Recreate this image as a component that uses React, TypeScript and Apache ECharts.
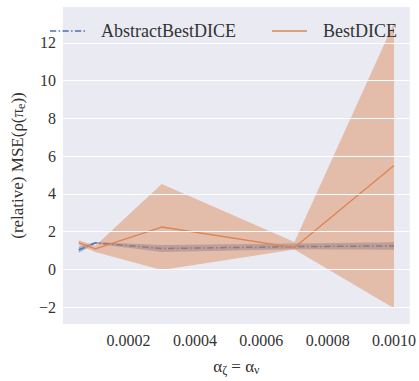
import React, { useEffect, useRef } from "react";
import * as echarts from "echarts";

const xValues = [0.00005, 0.0001, 0.0003, 0.0007, 0.001];
const abstractMean = [1.03, 1.4, 1.1, 1.2, 1.24];
const abstractLower = [0.88, 1.35, 0.92, 1.06, 1.04];
const abstractUpper = [1.2, 1.45, 1.29, 1.37, 1.43];
const bestMean = [1.41, 1.08, 2.24, 1.15, 5.5];
const bestLower = [1.28, 0.92, -0.04, 1.05, -2.07];
const bestUpper = [1.54, 1.25, 4.52, 1.45, 13.07];

const xTicks = [0.0002, 0.0004, 0.0006, 0.0008, 0.001];
const yTicks = [-2, 0, 2, 4, 6, 8, 10, 12];

const BLUE = "#4C72B0";
const ORANGE = "#DD8452";
const FONT = "'Liberation Serif', 'Times New Roman', serif";

const DASHDOT_ICON =
  "path://M0,0h6.5v1.5h-6.5z M9,0h1.5v1.5h-1.5z M13,0h6.5v1.5h-6.5z M22,0h1.5v1.5h-1.5z M26,0h6.5v1.5h-6.5z M35,0h1.5v1.5h-1.5z";
const SOLID_ICON = "path://M0,0h36v1.3h-36z";

function bandSeries(name: string, lower: number[], upper: number[], color: string, z: number) {
  return {
    name,
    type: "custom",
    z,
    silent: true,
    clip: true,
    data: xValues.map((x, i) => [x, lower[i], upper[i]]),
    encode: { x: 0, y: [1, 2] },
    renderItem: (params: any, api: any) => {
      if (params.dataIndex !== 0) return null;
      const top = xValues.map((x, i) => api.coord([x, upper[i]]));
      const bottom = xValues.map((x, i) => api.coord([x, lower[i]])).reverse();
      return {
        type: "polygon",
        shape: { points: [...top, ...bottom] },
        style: { fill: color, opacity: 0.45 },
      };
    },
  };
}

export default function App() {
  const ref = useRef<HTMLDivElement>(null);
  useEffect(() => {
    if (!ref.current) return;
    const chart = echarts.init(ref.current, null, { renderer: "svg" });
    const pairs = (ys: number[]) => xValues.map((x, i) => [x, ys[i]]);
    const gridLines = [
      ...yTicks.map((v) => ({ yAxis: v })),
      ...xTicks.map((v) => ({ xAxis: v })),
    ];
    const richName = {
      a: { fontFamily: FONT, fontSize: 17, color: "#333", lineHeight: 20 },
      s: { fontFamily: FONT, fontSize: 12, color: "#333", lineHeight: 12, verticalAlign: "bottom" },
    };
    chart.setOption({
      animation: false,
      backgroundColor: "#ffffff",
      textStyle: { fontFamily: FONT },
      grid: { left: 63, top: 7, right: 9, bottom: 47, show: true, backgroundColor: "#EAEAF2", borderWidth: 0 },
      legend: {
        data: [
          { name: "AbstractBestDICE", icon: DASHDOT_ICON },
          { name: "BestDICE", icon: SOLID_ICON },
        ],
        left: 45,
        top: 17,
        itemWidth: 35,
        itemHeight: 1.5,
        itemGap: 36,
        textStyle: { fontFamily: FONT, fontSize: 18, color: "#333", padding: [0, 0, 0, 11] },
      },
      xAxis: {
        type: "value",
        min: 0.0000025,
        max: 0.0010475,
        axisLine: { show: false },
        axisTick: { show: false },
        splitLine: { show: false },
        axisLabel: {
          customValues: xTicks,
          formatter: (v: number) => v.toFixed(4),
          fontFamily: FONT,
          fontSize: 16,
          color: "#333",
          margin: 8,
        },
        name: "{a|α}{s|ζ}{a| = α}{s|ν}",
        nameLocation: "middle",
        nameGap: 32,
        nameTextStyle: { fontFamily: FONT, rich: richName },
      },
      yAxis: {
        type: "value",
        min: -2.9,
        max: 13.9,
        axisLine: { show: false },
        axisTick: { show: false },
        splitLine: { show: false },
        axisLabel: {
          customValues: yTicks,
          formatter: (v: number) => (v < 0 ? "\u2212" + Math.abs(v) : String(v)),
          fontFamily: FONT,
          fontSize: 16,
          color: "#333",
          margin: 7,
        },
        name: "{a|(relative) MSE(ρ(π}{s|e}{a|))}",
        nameLocation: "middle",
        nameGap: 36,
        nameRotate: 90,
        nameTextStyle: { fontFamily: FONT, rich: richName },
      },
      series: [
        {
          name: "grid",
          type: "line",
          data: [],
          z: 0,
          silent: true,
          markLine: {
            silent: true,
            symbol: ["none", "none"],
            label: { show: false },
            lineStyle: { color: "#ffffff", width: 1.2, type: "solid" },
            emphasis: { disabled: true },
            data: gridLines,
          },
        },
        bandSeries("abstractBand", abstractLower, abstractUpper, BLUE, 1),
        {
          name: "AbstractBestDICE",
          type: "line",
          data: pairs(abstractMean),
          symbol: "none",
          color: BLUE,
          lineStyle: { color: BLUE, width: 1.5, type: [6.5, 2.5, 1.5, 2.5] },
          z: 2,
        },
        bandSeries("bestBand", bestLower, bestUpper, ORANGE, 3),
        {
          name: "BestDICE",
          type: "line",
          data: pairs(bestMean),
          symbol: "none",
          color: ORANGE,
          lineStyle: { color: ORANGE, width: 1.3 },
          z: 4,
        },
      ],
    });
    return () => chart.dispose();
  }, []);
  return <div ref={ref} style={{ width: 419, height: 381, position: "absolute", left: 0, top: 0 }} />;
}
